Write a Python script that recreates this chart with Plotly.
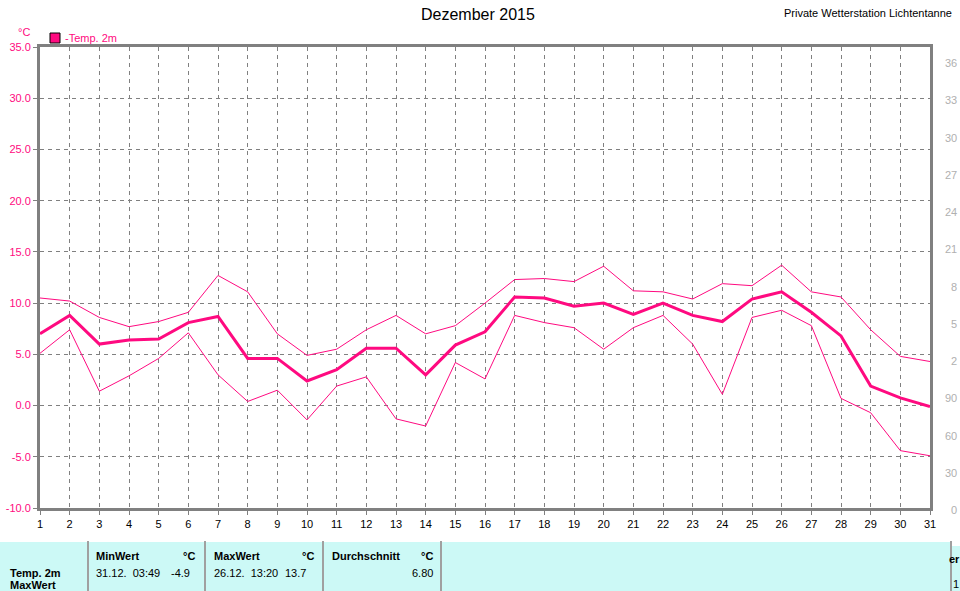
import plotly.graph_objects as go

# ---------------- data ----------------
days = list(range(1, 32))
temp_max = [10.5, 10.2, 8.6, 7.7, 8.2, 9.1, 12.7, 11.1, 7.0, 4.9, 5.5, 7.4, 8.8, 7.0, 7.8, 10.0,
            12.3, 12.4, 12.1, 13.6, 11.2, 11.1, 10.4, 11.9, 11.7, 13.7, 11.1, 10.6, 7.4, 4.8, 4.3]
temp_mean = [7.0, 8.8, 6.0, 6.4, 6.5, 8.1, 8.7, 4.6, 4.6, 2.4, 3.5, 5.6, 5.6, 3.0, 5.9, 7.2,
             10.6, 10.5, 9.7, 10.0, 8.9, 10.0, 8.8, 8.2, 10.4, 11.1, 9.1, 6.8, 1.9, 0.75, -0.1]
temp_min = [5.1, 7.4, 1.4, 2.9, 4.6, 7.1, 3.0, 0.4, 1.5, -1.4, 1.9, 2.8, -1.3, -2.0, 4.2, 2.6,
            8.8, 8.1, 7.6, 5.5, 7.6, 8.8, 6.0, 1.1, 8.6, 9.3, 7.8, 0.7, -0.7, -4.4, -4.9]

y_ticks = [35, 30, 25, 20, 15, 10, 5, 0, -5, -10]
right_labels = ["36", "33", "30", "27", "24", "21", "8", "5", "2", "90", "60", "30", "0"]

title_text = "Dezember 2015"
station_text = "Private Wetterstation Lichtentanne"
series_name = "Temp. 2m"
min_label, min_time, min_value = "MinWert", "31.12.\u00a0\u00a003:49", "-4.9"
max_label, max_time, max_value = "MaxWert", "26.12.\u00a0\u00a013:20", "13.7"
avg_label, avg_value = "Durchschnitt", "6.80"
unit = "°C"

# ---------------- style ----------------
PINK = "#ff0a80"
GRID = "#808080"
FONT = "Liberation Sans, Arial, sans-serif"
W, H = 960, 591
L, R, T, B = 40, 930, 47, 508


def px(x):
    return (x - L) / (R - L)


def py(y):
    return (B - y) / (B - T)


fig = go.Figure()
fig.add_trace(go.Scatter(x=days, y=temp_max, mode="lines", name=series_name + " max",
                         line=dict(color=PINK, width=1)))
fig.add_trace(go.Scatter(x=days, y=temp_min, mode="lines", name=series_name + " min",
                         line=dict(color=PINK, width=1)))
fig.add_trace(go.Scatter(x=days, y=temp_mean, mode="lines", name=series_name,
                         line=dict(color=PINK, width=3)))

fig.update_layout(
    width=W, height=H,
    margin=dict(l=L, r=W - R, t=T, b=H - B, pad=0, autoexpand=False),
    paper_bgcolor="white", plot_bgcolor="white",
    showlegend=False,
    font=dict(family=FONT, size=11, color="black"),
)
fig.update_xaxes(
    range=[1, 31], tickmode="array", tickvals=days, ticktext=[str(d) for d in days],
    showgrid=True, gridcolor=GRID, gridwidth=1, griddash="4px,4px",
    showline=True, linecolor=GRID, linewidth=3, mirror=True,
    ticks="outside", ticklen=4, tickcolor=GRID, tickwidth=1, automargin=False,
    tickfont=dict(family=FONT, size=11, color="black"), zeroline=False,
)
fig.update_yaxes(
    range=[-10, 35], tickmode="array", tickvals=y_ticks,
    ticktext=[f"{v:.1f}" for v in y_ticks],
    showgrid=True, gridcolor=GRID, gridwidth=1, griddash="4px,4px",
    showline=True, linecolor=GRID, linewidth=3, mirror=True,
    ticks="outside", ticklen=4, tickcolor=GRID, tickwidth=1, automargin=False,
    tickfont=dict(family=FONT, size=11, color=PINK), zeroline=False,
)

shapes = []
ann = []


def text(x, y, s, anchor="left", color="black", size=11, bold=False):
    ann.append(dict(x=px(x), y=py(y), xref="paper", yref="paper", text=f"<b>{s}</b>" if bold else s,
                    showarrow=False, xanchor=anchor, yanchor="middle",
                    font=dict(family=FONT, size=size, color=color)))


# title & station
text(478, 15, title_text, anchor="center", size=16)
text(782, 13, station_text, anchor="left", size=11)

# unit label & legend
text(24, 32, unit, anchor="center", color=PINK, size=11)
shapes.append(dict(type="rect", xref="paper", yref="paper", x0=px(50), x1=px(60), y0=py(43), y1=py(33),
                   fillcolor=PINK, line=dict(color="black", width=1)))
text(63, 38, "-" + series_name, anchor="left", color=PINK, size=11)

# right-hand clipped axis labels
for i, lab in enumerate(right_labels):
    text(959, 63 + i * 37.25, lab, anchor="right", color="#b0b0b0", size=11)

# bottom statistics table
shapes.append(dict(type="rect", xref="paper", yref="paper", x0=px(0), x1=px(951), y0=py(591), y1=py(542),
                   fillcolor="#ccf9f6", line=dict(width=0), layer="below"))
shapes.append(dict(type="rect", xref="paper", yref="paper", x0=px(951), x1=px(961), y0=py(591), y1=py(546),
                   fillcolor="#ccf9f6", line=dict(width=0), layer="below"))
for sx in [88, 205, 323, 441, 951]:
    shapes.append(dict(type="line", xref="paper", yref="paper", x0=px(sx), x1=px(sx), y0=py(591), y1=py(541),
                       line=dict(color="#a0a0a0", width=2)))

text(8, 573, series_name, bold=True)
text(8, 585, max_label, bold=True)
text(94, 556, min_label, bold=True)
text(197, 556, unit, anchor="right", bold=True)
text(94, 573, min_time)
text(192, 573, min_value, anchor="right")
text(212, 556, max_label, bold=True)
text(316, 556, unit, anchor="right", bold=True)
text(212, 573, max_time)
text(308, 573, max_value, anchor="right")
text(330, 556, avg_label, bold=True)
text(435, 556, unit, anchor="right", bold=True)
text(435, 573, avg_value, anchor="right")
text(947, 559, "er", anchor="left", bold=True)
text(951, 584, "1", anchor="left")

fig.update_layout(shapes=shapes, annotations=ann)
fig.write_html("out.html", config={"displayModeBar": False},
               post_script="document.body.style.margin='0';")
